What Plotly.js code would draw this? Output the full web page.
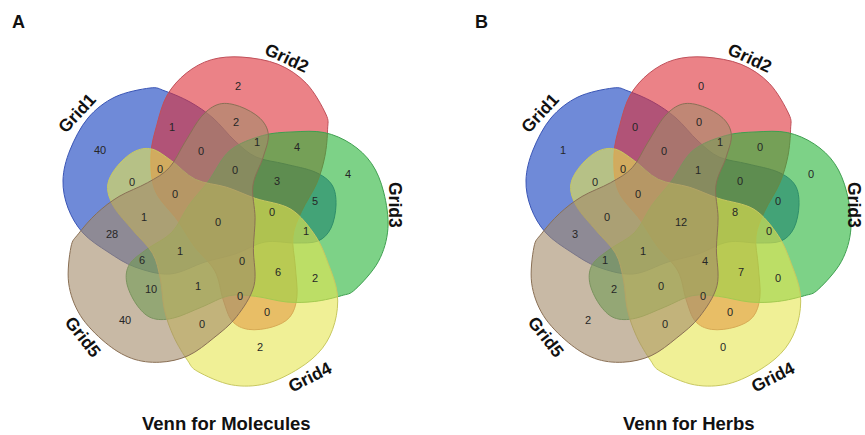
<!DOCTYPE html>
<html><head><meta charset="utf-8">
<script src="https://cdn.plot.ly/plotly-3.0.1.min.js"></script>
<style>html,body{margin:0;padding:0;background:#fff;} #chart{width:865px;height:435px;}</style>
</head><body><div id="chart"></div>
<script>
// ---------------- data ----------------
const setNames = ['Grid1','Grid2','Grid3','Grid4','Grid5'];
const regionCodes = ['1','2','3','4','5',
  '12','23','34','45','15',
  '13','24','35','14','25',
  '124','235','134','245','135',
  '123','234','345','145','125',
  '1235','1234','2345','1345','1245',
  '12345'];
const moleculeCounts = [40,2,4,2,40, 1,4,2,0,28, 5,0,10,0,2, 0,1,1,0,6, 3,6,1,1,0, 0,0,0,1,0, 0];
const herbCounts     = [1,0,0,0,2,   0,0,0,0,3,  0,0,2,0,0,  0,1,0,0,1, 0,7,0,0,0, 1,8,4,1,0, 12];
const panelTitles  = ['Venn for Molecules','Venn for Herbs'];
const panelLetters = ['A','B'];

// ---------------- diagram template (geometry) ----------------
const panelCenters = [[220,222],[683,222]];
// label anchor of each region, relative to diagram centre (same order as regionCodes)
const regionLabelOffsets = [
  [-120,-71],[18,-135],[128,-47],[40,126],[-95,99],
  [-48,-94],[77,-74],[95,57],[-18,103],[-108,13],
  [95,-20],[47,91],[-69,68],[-88,-39],[16,-99],
  [-60,-52],[37,-79],[86,10],[20,75],[-78,39],
  [57,-40],[58,51],[-22,65],[-76,-4],[-19,-70],
  [15,-51],[52,-9],[22,40],[-40,30],[-45,-27],
  [-2,1]];
// outline of the first set (others are rotations by 72 degrees)
const baseOutline = [
  [-70,-134],[-55,-131],[-30,-120],[-7,-104],[15,-81],[36,-65],[65,-58],[95,-50],
  [112,-37],[116,-17],[111,6],[98,19],[75,21],[45,20],[15,32],[-15,40],[-50,52],
  [-85,45],[-112,30],[-137,11],[-152,-14],[-157,-42],[-150,-72],[-132,-104],[-105,-125]];
const setLabelOffsets = [[-143,-109],[67,-164],[175,-17],[90,155],[-137,115]];
const setLabelAngles  = [-47,25,90,-27,52];
const setFills  = ['rgba(15,60,190,0.6)','rgba(222,47,55,0.6)','rgba(38,180,55,0.6)','rgba(230,230,80,0.6)','rgba(163,138,105,0.6)'];
const setLines  = ['#3a55b5','#c0505a','#3f9f50','#c8c860','#8a7055'];
const PAGE_W = 865, EDGE_PAD = 11;

function rot(p, deg){
  const a = deg*Math.PI/180, c=Math.cos(a), s=Math.sin(a);
  return [p[0]*c - p[1]*s, p[0]*s + p[1]*c];
}
function closedSplinePath(pts){
  const n = pts.length;
  const f = v => v.toFixed(2);
  let d = 'M' + f(pts[0][0]) + ',' + f(pts[0][1]);
  for(let i=0;i<n;i++){
    const p0=pts[(i-1+n)%n], p1=pts[i], p2=pts[(i+1)%n], p3=pts[(i+2)%n];
    const c1=[p1[0]+(p2[0]-p0[0])/6, p1[1]+(p2[1]-p0[1])/6];
    const c2=[p2[0]-(p3[0]-p1[0])/6, p2[1]-(p3[1]-p1[1])/6];
    d += ' C' + f(c1[0])+','+f(c1[1])+' '+f(c2[0])+','+f(c2[1])+' '+f(p2[0])+','+f(p2[1]);
  }
  return d + ' Z';
}

const shapes = [], annotations = [], traces = [];
const panelCounts = [moleculeCounts, herbCounts];
const FONT = 'Liberation Sans, Arial, sans-serif';
panelCenters.forEach((cen, pi) => {
  setNames.forEach((nm, k) => {
    const pts = baseOutline.map(p => { const r = rot(p, 72*k); return [cen[0]+r[0], cen[1]+r[1]]; });
    shapes.push({type:'path', xref:'x', yref:'y', layer:'below', path: closedSplinePath(pts),
      fillcolor: setFills[k], line:{color:setLines[k], width:1}});
    const lx = Math.min(cen[0]+setLabelOffsets[k][0], PAGE_W - EDGE_PAD);
    annotations.push({x: lx, y: cen[1]+setLabelOffsets[k][1], xref:'x', yref:'y',
      text:'<b>'+nm+'</b>', showarrow:false, textangle:setLabelAngles[k],
      font:{family:FONT, size:17.5, color:'#111'}});
  });
  traces.push({type:'scatter', mode:'text', hoverinfo:'skip', cliponaxis:false,
    x: regionLabelOffsets.map(o => cen[0]+o[0]),
    y: regionLabelOffsets.map(o => cen[1]+o[1]),
    text: panelCounts[pi].map(String),
    textposition:'middle center',
    textfont:{family:FONT, size:11, color:'#262626'}});
  annotations.push({x: cen[0]-202, y: cen[1]-200, xref:'x', yref:'y', text:'<b>'+panelLetters[pi]+'</b>',
    showarrow:false, font:{family:FONT, size:18, color:'#111'}});
  annotations.push({x: cen[0]+6, y: cen[1]+201, xref:'x', yref:'y', text:'<b>'+panelTitles[pi]+'</b>',
    showarrow:false, font:{family:FONT, size:18.5, color:'#111'}});
});

const layout = {
  width:865, height:435, margin:{l:0,r:0,t:0,b:0},
  paper_bgcolor:'#fff', plot_bgcolor:'#fff', showlegend:false,
  xaxis:{range:[0,865], visible:false, fixedrange:true},
  yaxis:{range:[435,0], visible:false, fixedrange:true},
  shapes: shapes, annotations: annotations
};
Plotly.newPlot('chart', traces, layout, {staticPlot:true, displayModeBar:false});
</script>
</body></html>
